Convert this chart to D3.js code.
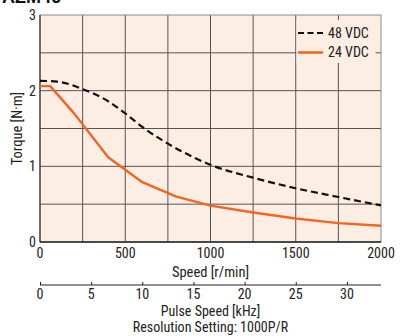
<!DOCTYPE html>
<html>
<head>
<meta charset="utf-8">
<script src="https://cdn.jsdelivr.net/npm/d3@7"></script>
<style>
  html, body { margin: 0; padding: 0; background: #fff; }
  svg { display: block; }
  text { font-family: "Liberation Sans Narrow", "Roboto Condensed", "Liberation Sans", Arial, sans-serif; fill: #222; }
</style>
</head>
<body>
<svg id="chart" width="402" height="336"></svg>
<script>
// Speed–torque characteristics
const speed48 = [0, 100, 250, 400, 500, 600, 750, 900, 1000, 1250, 1500, 1750, 2000];
const torque48 = [2.13, 2.12, 2.02, 1.86, 1.70, 1.52, 1.30, 1.12, 1.02, 0.85, 0.71, 0.595, 0.483];
const speed24 = [0, 60, 200, 400, 600, 800, 1000, 1250, 1500, 1750, 2000];
const torque24 = [2.06, 2.06, 1.70, 1.12, 0.79, 0.60, 0.48, 0.39, 0.31, 0.25, 0.215];

const seriesNames = ["48 VDC", "24 VDC"];
const speedTicks = [0, 500, 1000, 1500, 2000];
const torqueTicks = [0, 1, 2, 3];
const pulseTicks = [0, 5, 10, 15, 20, 25, 30];
const pulseMax = 2000 / 60; // kHz at 1000 P/R

const svg = d3.select("#chart");
const pL = 40, pR = 381, pT = 15, pB = 242;

const x = d3.scaleLinear().domain([0, 2000]).range([pL, pR]);
const y = d3.scaleLinear().domain([0, 3]).range([pB, pT]);
const xp = d3.scaleLinear().domain([0, pulseMax]).range([pL, pR]);

// heading (runs off the top edge)
svg.append("text").attr("x", 2).attr("y", 3)
  .style("font-family", "'Liberation Sans', Arial, sans-serif")
  .style("font-weight", "bold").style("font-size", "18px").style("fill", "#111")
  .text("AZM46");

// plot background
svg.append("rect").attr("x", pL).attr("y", pT)
  .attr("width", pR - pL).attr("height", pB - pT)
  .attr("fill", "#fdeee4");

// grid
const grid = svg.append("g").attr("stroke", "#3a3a3a").attr("stroke-width", 1).attr("opacity", 0.85);
grid.selectAll("line.v").data(d3.range(250, 2000, 250)).join("line")
  .attr("x1", d => x(d)).attr("x2", d => x(d)).attr("y1", pT).attr("y2", pB);
grid.selectAll("line.h").data(d3.range(0.5, 3, 0.5)).join("line")
  .attr("x1", pL).attr("x2", pR).attr("y1", d => y(d)).attr("y2", d => y(d));

// frame
svg.append("rect").attr("x", pL).attr("y", pT)
  .attr("width", pR - pL).attr("height", pB - pT)
  .attr("fill", "none").attr("stroke", "#8a8a8a").attr("stroke-width", 1);
svg.append("line").attr("x1", pL).attr("x2", pL).attr("y1", pT).attr("y2", pB)
  .attr("stroke", "#333").attr("stroke-width", 1.2);
svg.append("line").attr("x1", pL).attr("x2", pR).attr("y1", pB).attr("y2", pB)
  .attr("stroke", "#222").attr("stroke-width", 1.4);

// curves
const line = d3.line().x(d => x(d[0])).y(d => y(d[1]));
const line48 = d3.line().x(d => x(d[0])).y(d => y(d[1])).curve(d3.curveMonotoneX);
svg.append("path").datum(d3.zip(speed48, torque48)).attr("d", line48)
  .attr("fill", "none").attr("stroke", "#111").attr("stroke-width", 2.2)
  .attr("stroke-dasharray", "7,4");
svg.append("path").datum(d3.zip(speed24, torque24)).attr("d", line)
  .attr("fill", "none").attr("stroke", "#f26522").attr("stroke-width", 2.4)
  .attr("stroke-linejoin", "round");

// legend
svg.append("rect").attr("x", 296.5).attr("y", 20).attr("width", 79).attr("height", 43)
  .attr("fill", "#fdeee4");
const lg = svg.append("g");
lg.append("line").attr("x1", 298).attr("x2", 323).attr("y1", 33).attr("y2", 33)
  .attr("stroke", "#111").attr("stroke-width", 2.2).attr("stroke-dasharray", "6,3.5");
lg.append("line").attr("x1", 298).attr("x2", 323).attr("y1", 52.5).attr("y2", 52.5)
  .attr("stroke", "#f26522").attr("stroke-width", 2.6);
lg.selectAll("text").data(seriesNames).join("text")
  .attr("x", 328).attr("y", (d, i) => 33 + i * 19.5).attr("dy", "0.35em")
  .style("font-size", "14px").text(d => d);

// y axis labels
svg.append("g").selectAll("text").data(torqueTicks).join("text")
  .attr("x", 36).attr("y", d => y(d)).attr("dy", "0.35em").attr("text-anchor", "end")
  .style("font-size", "14px").text(d => d);
svg.append("text").attr("transform", `translate(17,${(pT + pB) / 2}) rotate(-90)`)
  .attr("text-anchor", "middle").attr("dy", "0.35em")
  .style("font-size", "14.5px").text("Torque [N·m]");

// speed axis labels
svg.append("g").selectAll("text").data(speedTicks).join("text")
  .attr("x", d => x(d)).attr("y", 253).attr("dy", "0.35em").attr("text-anchor", "middle")
  .style("font-size", "14px").text(d => d);
svg.append("text").attr("x", (pL + pR) / 2).attr("y", 271.5).attr("dy", "0.35em")
  .attr("text-anchor", "middle").style("font-size", "14.5px").text("Speed [r/min]");

// pulse speed axis
const pAxis = svg.append("g").attr("transform", "translate(0,285)");
pAxis.call(d3.axisTop(xp).tickValues(pulseTicks).tickSize(3).tickFormat(""));
pAxis.select(".domain").attr("d", `M${pL},0H${pR}`).attr("stroke", "#222").attr("stroke-width", 1.2);
pAxis.selectAll(".tick line").attr("stroke", "#222");
svg.append("g").selectAll("text").data(pulseTicks).join("text")
  .attr("x", d => xp(d)).attr("y", 294).attr("dy", "0.35em").attr("text-anchor", "middle")
  .style("font-size", "14px").text(d => d);
svg.append("text").attr("x", (pL + pR) / 2).attr("y", 311.5).attr("dy", "0.35em")
  .attr("text-anchor", "middle").style("font-size", "14px").text("Pulse Speed [kHz]");
svg.append("text").attr("x", (pL + pR) / 2).attr("y", 327).attr("dy", "0.35em")
  .attr("text-anchor", "middle").style("font-size", "14px").text("Resolution Setting: 1000P/R");
</script>
</body>
</html>
